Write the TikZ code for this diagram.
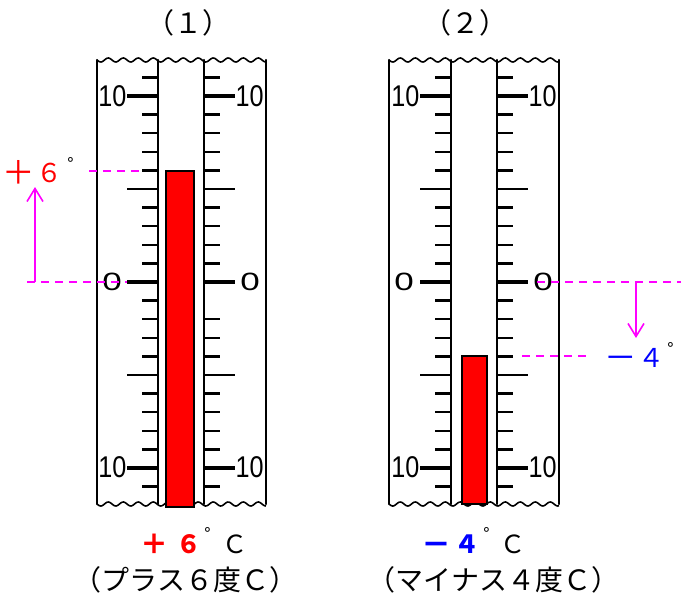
\documentclass[tikz,border=0pt]{standalone}
\usepackage{fontspec}
\setmainfont{Liberation Sans}
\newfontfamily\jp{Noto Sans CJK JP}
\usetikzlibrary{arrows.meta}
\definecolor{mag}{RGB}{255,0,255}
\definecolor{tred}{RGB}{255,0,0}
\definecolor{tblue}{RGB}{0,0,255}
\tikzset{
  tube/.style={line width=2.2pt, line cap=round},
  wave/.style={line width=1.6pt},
  shorttick/.style={line width=2.3pt},
  longtick/.style={line width=2.3pt},
  majortick/.style={line width=4.8pt},
  num/.style={inner sep=0pt, font=\fontsize{30}{30}\selectfont},
  zero/.style={inner sep=0pt, font=\fontsize{25}{25}\selectfont},
  bar/.style={fill=tred, draw=black, line width=2.5pt},
  magdash/.style={draw=mag, line width=1.6pt, dash pattern=on 8pt off 6pt},
  magarrow/.style={draw=mag, line width=1.6pt, -{Straight Barb[length=13pt,width=16pt,line width=1.6pt]}},
  jptext/.style={inner sep=0pt, font=\jp\fontsize{28}{28}\selectfont},
  headtext/.style={inner sep=0pt, font=\jp\fontsize{25}{25}\selectfont, anchor=base},
  headbold/.style={inner sep=0pt, font=\jp\bfseries\fontsize{25}{25}\selectfont, anchor=base},
  annot/.style={inner sep=0pt, font=\jp\fontsize{26}{26}\selectfont, anchor=base},
  degree/.style={inner sep=0pt, font=\jp\fontsize{17}{17}\selectfont, anchor=north},
}
\newcommand\drawthermo[6]{%
  % #1 outer left, #2 inner left, #3 inner right, #4 outer right, #5 skipped right tick, #6 name prefix
  \draw[tube] (#1,60) -- (#1,504);
  \draw[tube] (#2,60) -- (#2,504);
  \draw[tube] (#3,60) -- (#3,504);
  \draw[tube] (#4,60) -- (#4,504);
  \draw[wave] plot[domain=#1:#4, samples=160] (\x,{60+2*sin(24*(\x-#1))});
  \draw[wave] plot[domain=#1:#4, samples=160] (\x,{504+2*sin(24*(\x-#1))});
  \foreach \v in {-11,...,11}{
    \pgfmathsetmacro\yy{282-18.6*\v}
    \pgfmathtruncatemacro\mfive{mod(abs(\v),5)}
    \pgfmathtruncatemacro\mten{mod(abs(\v),10)}
    \ifnum\mten=0
      \draw[majortick] (#2-31,\yy) -- (#2,\yy);
      \draw[majortick] (#3,\yy) -- (#3+31,\yy);
    \else\ifnum\mfive=0
      \draw[longtick] (#2-31,\yy) -- (#2,\yy);
      \draw[longtick] (#3,\yy) -- (#3+31,\yy);
    \else
      \draw[shorttick] (#2-16,\yy) -- (#2,\yy);
      \ifnum\v=#5\relax\else
        \draw[shorttick] (#3,\yy) -- (#3+16,\yy);
      \fi
    \fi\fi
  }
  \node[num, anchor=east] (#6tl) at (#2-31.5,96) {\scalebox{0.84}[1]{10}};
  \node[num, anchor=west] (#6tr) at (#3+31.5,96) {\scalebox{0.84}[1]{10}};
  \node[num, anchor=east] (#6bl) at (#2-31.5,467) {\scalebox{0.84}[1]{10}};
  \node[num, anchor=west] (#6br) at (#3+31.5,467) {\scalebox{0.84}[1]{10}};
  \node[zero] (#6zl) at (#1+15,282) {\scalebox{1.4}[1]{0}};
  \node[zero] (#6zr) at (#3+46,282) {\scalebox{1.4}[1]{0}};
}
\begin{document}
\begin{tikzpicture}[x=1pt,y=-1pt]
\useasboundingbox (0,0) rectangle (681,597);
\fill[white] (0,0) rectangle (681,597);

% titles
\node[jptext] (title1) at (188,23) {（１）};
\node[jptext] (title2) at (465,23) {（２）};

% thermometers
\drawthermo{97}{158}{204}{266}{-1}{a}
\drawthermo{389}{451}{497}{559}{99}{b}

% mercury columns
\draw[bar] (166,171) rectangle (194,507);
\draw[bar] (462,356) rectangle (487,504);

% annotation (1)
\coordinate (d1a) at (89,171);
\coordinate (d1b) at (143,171);
\draw[magdash] (d1a) -- (d1b);
\coordinate (z1a) at (27,282);
\coordinate (z1b) at (127,282);
\draw[magdash] (z1a) -- (z1b);
\coordinate (ar1a) at (35,282);
\coordinate (ar1b) at (35,187);
\draw[magarrow] (ar1a) -- (ar1b);
\node[annot, text=tred] (p1plus) at (19,184) {\scalebox{1.25}{＋}};
\node[annot, text=tred] (p1six) at (49.5,182) {６};
\node[degree] (p1deg) at (70.5,157) {°};

% annotation (2)
\coordinate (z2a) at (537,282);
\coordinate (z2b) at (681,282);
\draw[magdash] (z2a) -- (z2b);
\coordinate (d2a) at (522,356);
\coordinate (d2b) at (590,356);
\draw[magdash] (d2a) -- (d2b);
\coordinate (ar2a) at (636,282);
\coordinate (ar2b) at (636,338);
\draw[magarrow] (ar2a) -- (ar2b);
\node[annot, text=tblue] (m2minus) at (621,369) {\scalebox{1.25}{－}};
\node[annot, text=tblue] (m2four) at (651,367) {４};
\node[degree] (m2deg) at (670.5,342.5) {°};

% bottom captions (1)
\node[headbold, text=tred] (c1plus) at (154.5,554) {\scalebox{1.12}{＋}};
\node[headbold, text=tred] (c1six) at (188.5,553) {６};
\node[degree] (c1deg) at (207.5,527.5) {°};
\node[headtext] (c1c) at (235,553) {Ｃ};
\node[jptext] (c1line) at (185.5,580) {（プラス６度Ｃ）};

% bottom captions (2)
\node[headbold, text=tblue] (c2minus) at (436,555) {\scalebox{1.2}{－}};
\node[headbold, text=tblue] (c2four) at (466.5,553) {４};
\node[degree] (c2deg) at (486.5,527.5) {°};
\node[headtext] (c2c) at (512.5,553) {Ｃ};
\node[jptext] (c2line) at (493.5,580) {（マイナス４度Ｃ）};
\end{tikzpicture}
\end{document}
